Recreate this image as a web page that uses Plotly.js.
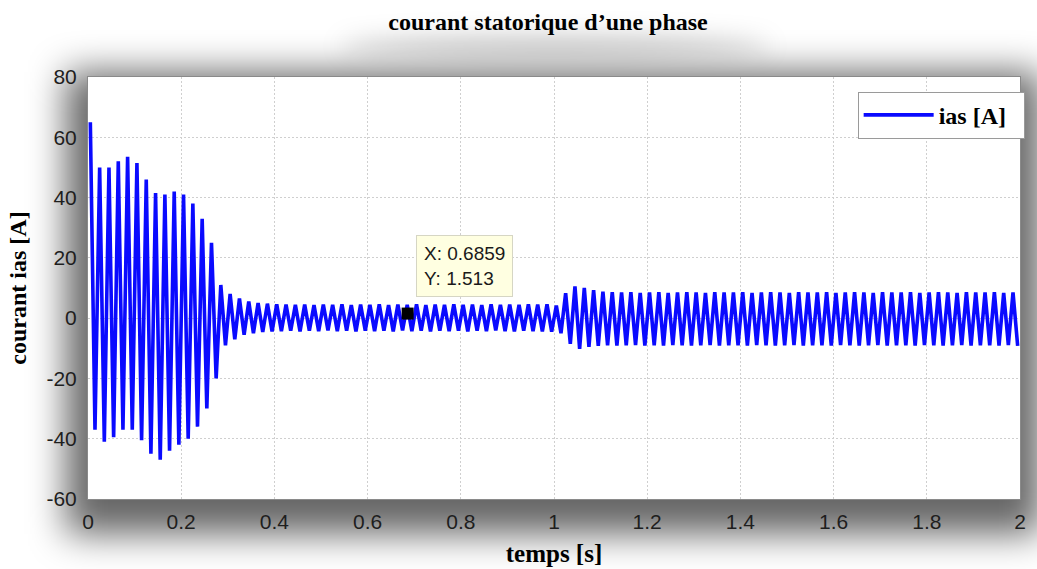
<!DOCTYPE html>
<html>
<head>
<meta charset="utf-8">
<script src="https://cdn.plot.ly/plotly-3.0.1.min.js"></script>
<style>
  html, body { margin: 0; padding: 0; background: #fff; }
  #wrap { position: relative; width: 1037px; height: 569px; overflow: hidden; background: #fff; }
  #shadow { position: absolute; left: 66px; top: 72px; width: 975px; height: 462px;
            background: rgba(0,0,0,0.6); filter: blur(18px); }
  #tshadow { position: absolute; left: 340px; top: 36px; width: 430px; height: 20px;
            background: rgba(0,0,0,0.22); filter: blur(12px); border-radius: 50%; }
  #chart { position: absolute; left: 0; top: 0; width: 1037px; height: 569px; }
</style>
</head>
<body>
<div id="wrap"><div id="tshadow"></div><div id="shadow"></div><div id="chart"></div></div>
<script>
// ---- data (one max and one min per 50 Hz cycle) ----
const cycleMax = [
  65, 50, 50, 52, 53.5, 51.5, 46, 41.5, 41, 42,
  41, 38, 33, 25, 11, 8, 6.5, 5.5, 5, 4.8,
  4.6, 4.5, 4.4, 4.5, 4.3, 4.5, 4.4, 4.6, 4.3, 4.5,
  4.4, 4.6, 4.3, 4.5, 4.4, 4.6, 4.3, 4.5, 4.4, 4.6,
  4.4, 4.5, 4.3, 4.6, 4.4, 4.5, 4.4, 4.6, 4.5, 4.6,
  4.2, 8.3, 10.5, 10, 9.3, 8.8, 8.6, 8.5, 8.6, 8.4,
  8.5, 8.6, 8.4, 8.5, 8.6, 8.5, 8.4, 8.6, 8.5, 8.5,
  8.6, 8.4, 8.5, 8.6, 8.5, 8.4, 8.6, 8.5, 8.5, 8.6,
  8.4, 8.5, 8.6, 8.5, 8.4, 8.6, 8.5, 8.5, 8.6, 8.4,
  8.5, 8.6, 8.5, 8.4, 8.6, 8.5, 8.5, 8.6, 8.4, 8.5
];
const cycleMin = [
  -37, -41, -39.5, -37, -37, -40.5, -45, -47, -44, -42,
  -40, -36, -30, -20, -9, -7, -5.5, -5, -4.6, -4.4,
  -4.3, -4.2, -4.4, -4.2, -4.3, -4.1, -4.3, -4.2, -4.4, -4.2,
  -4.3, -4.2, -4.4, -4.1, -4.3, -4.2, -4.4, -4.2, -4.3, -4.2,
  -4.4, -4.2, -4.3, -4.1, -4.3, -4.4, -4.2, -4.3, -4.4, -4.5,
  -5, -8.5, -10.2, -9.5, -9.2, -9, -9.1, -9, -8.9, -9.1,
  -9, -9.1, -8.9, -9, -9.1, -9, -8.9, -9.1, -9, -9,
  -9.1, -8.9, -9, -9.1, -9, -8.9, -9.1, -9, -9, -9.1,
  -8.9, -9, -9.1, -9, -8.9, -9.1, -9, -9, -9.1, -8.9,
  -9, -9.1, -9, -8.9, -9.1, -9, -9, -9.1, -8.9, -9.2
];
const xTicks = [0, 0.2, 0.4, 0.6, 0.8, 1, 1.2, 1.4, 1.6, 1.8, 2];
const yTicks = [-60, -40, -20, 0, 20, 40, 60, 80];
const tipX = 0.6859;
const tipY = 1.513;
const seriesName = 'ias [A]';
const chartTitle = 'courant statorique d’une phase';
const xTitle = 'temps [s]';
const yTitle = 'courant ias [A]';

// interleave the half-cycle extremes
const ias = [];
for (let i = 0; i < cycleMax.length; i++) { ias.push(cycleMax[i], cycleMin[i]); }

const traces = [
  { type: 'scatter', mode: 'lines', name: '<b>' + seriesName + '</b>&nbsp;&nbsp;',
    y: ias, x0: 0.005, dx: 0.01,
    line: { color: '#0a0aff', width: 3.6 } },
  { type: 'scatter', mode: 'markers', x: [tipX], y: [tipY], showlegend: false,
    marker: { symbol: 'square', size: 12, color: '#000' } }
];

const serif = 'Liberation Serif, Times New Roman, serif';
const sans = 'Liberation Sans, Arial, Helvetica, sans-serif';

const layout = {
  width: 1037, height: 569,
  margin: { l: 88, r: 12, t: 77, b: 70 },
  paper_bgcolor: 'rgba(0,0,0,0)', plot_bgcolor: '#ffffff',
  showlegend: true,
  title: { text: '<b>' + chartTitle + '</b>', font: { family: serif, size: 24, color: '#000' },
           x: 0.5285, xanchor: 'center', xref: 'container', y: 0.962, yanchor: 'middle' },
  xaxis: {
    range: [0, 2], tickvals: xTicks, ticktext: xTicks.map(String),
    showgrid: true, gridcolor: '#cfcfcf', griddash: '2px,2px', gridwidth: 1,
    zeroline: false, showline: true, mirror: true, linecolor: '#8a8a8a', linewidth: 1,
    ticks: '', ticklabelstandoff: 4, tickfont: { family: sans, size: 21, color: '#1e1e1e' },
    title: { text: '<b>' + xTitle + '</b>', font: { family: serif, size: 25, color: '#000' }, standoff: 12 }
  },
  yaxis: {
    range: [-60, 80], tickvals: yTicks, ticktext: yTicks.map(String),
    showgrid: true, gridcolor: '#cfcfcf', griddash: '2px,2px', gridwidth: 1,
    zeroline: false, showline: true, mirror: true, linecolor: '#8a8a8a', linewidth: 1,
    ticks: '', ticklabelstandoff: 6, tickfont: { family: sans, size: 21, color: '#1e1e1e' },
    title: { text: '<b>' + yTitle + '</b>', font: { family: serif, size: 24, color: '#000' }, standoff: 13 }
  },
  legend: { x: 1.005, xanchor: 'right', y: 0.965, yanchor: 'top',
            bgcolor: '#ffffff', bordercolor: '#9a9a9a', borderwidth: 1,
            font: { family: serif, size: 24, color: '#000' }, itemwidth: 70 },
  annotations: [{
    x: tipX, y: tipY, xref: 'x', yref: 'y', showarrow: false,
    text: 'X: ' + tipX + '<br>Y: ' + tipY, align: 'left',
    xanchor: 'left', yanchor: 'bottom', xshift: 8, yshift: 17,
    bgcolor: '#ffffe1', bordercolor: '#d6d6c4', borderwidth: 1, borderpad: 7,
    font: { family: sans, size: 19, color: '#1a1a1a' }
  }]
};

Plotly.newPlot('chart', traces, layout, { displayModeBar: false, staticPlot: true });
</script>
</body>
</html>
